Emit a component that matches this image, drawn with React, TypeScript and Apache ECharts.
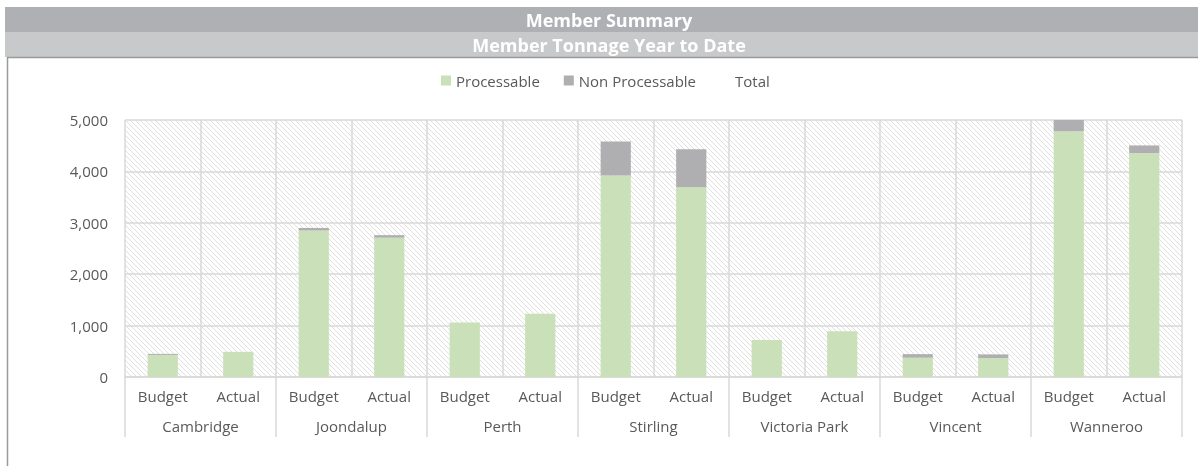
import React, { useEffect, useRef } from "react";
import * as echarts from "echarts";

const members = ["Cambridge", "Joondalup", "Perth", "Stirling", "Victoria Park", "Vincent", "Wanneroo"];
const periods = ["Budget", "Actual"];
const processableBudget = [430, 2850, 1060, 3920, 720, 375, 4780];
const nonProcessableBudget = [20, 50, 0, 660, 0, 70, 220];
const processableActual = [490, 2710, 1230, 3690, 890, 370, 4355];
const nonProcessableActual = [0, 50, 0, 740, 0, 70, 150];
const yTicks = { min: 0, max: 5000, interval: 1000 };

const FONT = "'Open Sans', 'Liberation Sans', sans-serif";
const TEXT = "#595959";
const GRIDC = "#d9d9d9";

function makeHatch(): HTMLCanvasElement {
  const c = document.createElement("canvas");
  const n = 5;
  c.width = n;
  c.height = n;
  const ctx = c.getContext("2d")!;
  ctx.fillStyle = "#ffffff";
  ctx.fillRect(0, 0, n, n);
  ctx.fillStyle = "#e0e0e0";
  for (let i = 0; i < n; i++) ctx.fillRect(i, i, 1, 1);
  return c;
}

export default function App() {
  const ref = useRef<HTMLDivElement>(null);
  useEffect(() => {
    if (!ref.current) return;
    const chart = echarts.init(ref.current, undefined, { renderer: "svg" });
    const cats: string[] = [];
    const proc: number[] = [];
    const nonp: number[] = [];
    const total: number[] = [];
    members.forEach((_, i) => {
      periods.forEach((p) => {
        cats.push(p);
        const a = p === "Budget" ? processableBudget[i] : processableActual[i];
        const b = p === "Budget" ? nonProcessableBudget[i] : nonProcessableActual[i];
        proc.push(a);
        nonp.push(b);
        total.push(a + b);
      });
    });
    const hatch = makeHatch();
    chart.setOption({
      animation: false,
      textStyle: { fontFamily: FONT },
      graphic: [
        { type: "rect", shape: { x: 5, y: 7, width: 1193, height: 25 }, style: { fill: "#afb0b3" }, silent: true },
        { type: "rect", shape: { x: 5, y: 32, width: 1193, height: 25 }, style: { fill: "#c8c9cb" }, silent: true },
        {
          type: "text", x: 609, y: 20,
          style: { text: "Member Summary", fill: "#ffffff", font: `bold 18px ${FONT}`, textAlign: "center", textVerticalAlign: "middle" },
        },
        {
          type: "text", x: 609, y: 45,
          style: { text: "Member Tonnage Year to Date", fill: "#ffffff", font: `bold 18px ${FONT}`, textAlign: "center", textVerticalAlign: "middle" },
        },
        { type: "line", shape: { x1: 7, y1: 57.5, x2: 1198, y2: 57.5 }, style: { stroke: "#9a9a9a", lineWidth: 1.5 }, silent: true },
        { type: "line", shape: { x1: 7.5, y1: 57, x2: 7.5, y2: 466 }, style: { stroke: "#9a9a9a", lineWidth: 1.5 }, silent: true },
      ],
      legend: {
        left: 441,
        top: 73,
        padding: 0,
        itemWidth: 10,
        itemHeight: 10,
        itemGap: 24,
        icon: "rect",
        textStyle: { color: TEXT, fontSize: 15, fontFamily: FONT },
        data: [
          { name: "Processable" },
          { name: "Non Processable" },
          { name: "Total", itemStyle: { color: "rgba(0,0,0,0)", borderWidth: 0 } },
        ],
      },
      grid: {
        left: 125,
        right: 16,
        top: 120,
        bottom: 89,
        show: true,
        borderWidth: 0,
        backgroundColor: { image: hatch, repeat: "repeat" },
      },
      xAxis: [
        {
          type: "category",
          data: cats,
          position: "bottom",
          axisLine: { show: true, lineStyle: { color: GRIDC, width: 1.5 } },
          axisTick: { show: false },
          splitLine: { show: true, interval: 0, lineStyle: { color: GRIDC, width: 1.5 } },
          axisLabel: { interval: 0, color: TEXT, fontSize: 15, fontFamily: FONT, margin: 11 },
        },
        {
          type: "category",
          data: members,
          position: "bottom",
          axisLine: { show: false },
          axisTick: { show: true, length: 60, lineStyle: { color: GRIDC, width: 1.5 } },
          splitLine: { show: false },
          axisLabel: { interval: 0, color: TEXT, fontSize: 15, fontFamily: FONT, margin: 41 },
        },
      ],
      yAxis: {
        type: "value",
        min: yTicks.min,
        max: yTicks.max,
        interval: yTicks.interval,
        axisLine: { show: false },
        axisTick: { show: false },
        splitLine: { show: true, lineStyle: { color: GRIDC, width: 1.5 } },
        axisLabel: {
          color: TEXT, fontSize: 15, fontFamily: FONT, margin: 17,
          formatter: (v: number) => v.toLocaleString("en-US"),
        },
      },
      series: [
        {
          name: "Processable", type: "bar", stack: "t", xAxisIndex: 0, data: proc,
          barWidth: "40%", itemStyle: { color: "#c9e0b9" },
        },
        {
          name: "Non Processable", type: "bar", stack: "t", xAxisIndex: 0, data: nonp,
          barWidth: "40%", itemStyle: { color: "#afafb2" },
        },
        {
          name: "Total", type: "line", xAxisIndex: 0, data: total,
          showSymbol: false, symbol: "none", silent: true,
          lineStyle: { width: 0, opacity: 0 }, itemStyle: { color: "rgba(0,0,0,0)" },
        },
      ],
    });
    return () => chart.dispose();
  }, []);
  return <div ref={ref} style={{ position: "fixed", left: 0, top: 0, width: 1198, height: 466 }} />;
}
